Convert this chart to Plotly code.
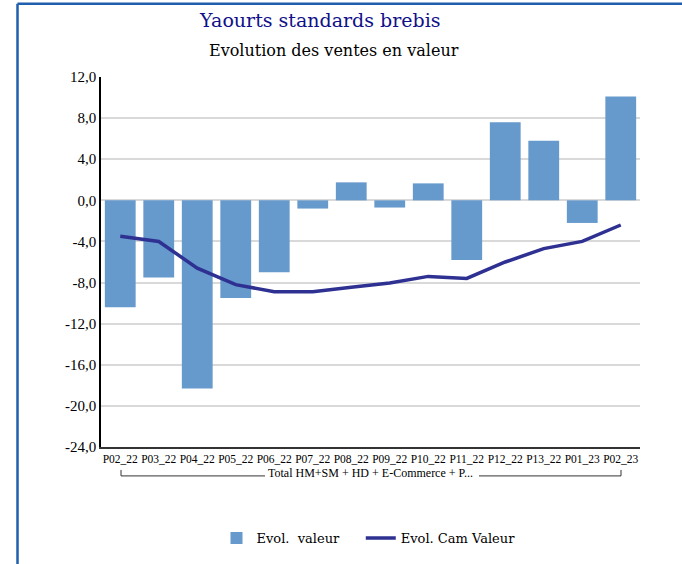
import plotly.graph_objects as go

categories = ["P02_22", "P03_22", "P04_22", "P05_22", "P06_22", "P07_22", "P08_22",
              "P09_22", "P10_22", "P11_22", "P12_22", "P13_22", "P01_23", "P02_23"]
evol_valeur = [-10.4, -7.5, -18.3, -9.5, -7.0, -0.8, 1.75, -0.7, 1.65, -5.8, 7.6, 5.8, -2.2, 10.1]
evol_cam_valeur = [-3.5, -4.0, -6.6, -8.2, -8.9, -8.9, -8.45, -8.05, -7.4, -7.6, -6.0, -4.7, -4.0, -2.4]
y_tickvals = [-24, -20, -16, -12, -8, -4, 0, 4, 8, 12]
y_ticktext = ["-24,0", "-20,0", "-16,0", "-12,0", "-8,0", "-4,0", "0,0", "4,0", "8,0", "12,0"]
group_label = "Total HM+SM + HD + E-Commerce + P..."

W, H = 682, 564
L, R, T, B = 101, 42, 77, 116
pw, ph = W - L - R, H - T - B

def px_x(x):
    return (x - L) / pw

def px_y(y):
    return (H - B - y) / ph

serif = "DejaVu Serif, Liberation Serif, serif"
tserif = "Liberation Serif, serif"

fig = go.Figure()
fig.add_trace(go.Bar(x=categories, y=evol_valeur, name="Evol.  valeur" + "\u00a0" * 4,
                     marker=dict(color="#6699cc", line=dict(width=0))))
fig.add_trace(go.Scatter(x=categories, y=evol_cam_valeur, name="Evol. Cam Valeur",
                         mode="lines", line=dict(color="#2e3192", width=3.5)))

shapes = []
# outer blue frame (left and top)
shapes.append(dict(type="line", xref="paper", yref="paper", x0=px_x(17.5), x1=px_x(700),
                   y0=px_y(3.5), y1=px_y(3.5), line=dict(color="#1f5fae", width=2.5)))
shapes.append(dict(type="line", xref="paper", yref="paper", x0=px_x(17.5), x1=px_x(17.5),
                   y0=px_y(3.5), y1=px_y(600), line=dict(color="#1f5fae", width=2.5)))
# bracket for group label
by, bt = 477, 471
shapes.append(dict(type="line", xref="paper", yref="paper", x0=px_x(121), x1=px_x(121),
                   y0=px_y(bt), y1=px_y(by), line=dict(color="#333333", width=1)))
shapes.append(dict(type="line", xref="paper", yref="paper", x0=px_x(621), x1=px_x(621),
                   y0=px_y(bt), y1=px_y(by), line=dict(color="#333333", width=1)))
shapes.append(dict(type="line", xref="paper", yref="paper", x0=px_x(121), x1=px_x(265),
                   y0=px_y(by), y1=px_y(by), line=dict(color="#333333", width=1)))
shapes.append(dict(type="line", xref="paper", yref="paper", x0=px_x(479), x1=px_x(621),
                   y0=px_y(by), y1=px_y(by), line=dict(color="#333333", width=1)))

annotations = [
    dict(text="Yaourts standards brebis", xref="paper", yref="paper", x=px_x(320), y=px_y(20),
         showarrow=False, font=dict(family=serif, size=19, color="#10108a"),
         xanchor="center", yanchor="middle"),
    dict(text="Evolution des ventes en valeur", xref="paper", yref="paper", x=px_x(334), y=px_y(50),
         showarrow=False, font=dict(family=serif, size=16, color="#000000"),
         xanchor="center", yanchor="middle"),
    dict(text=group_label, xref="paper", yref="paper", x=px_x(370), y=px_y(474),
         showarrow=False, font=dict(family=tserif, size=12, color="#000000"),
         xanchor="center", yanchor="middle"),
]

fig.update_layout(
    width=W, height=H,
    margin=dict(l=L, r=R, t=T, b=B),
    paper_bgcolor="white", plot_bgcolor="white",
    bargap=0.2,
    showlegend=True,
    legend=dict(orientation="h", x=px_x(368.5), y=px_y(538), xanchor="center", yanchor="middle",
                font=dict(family=serif, size=13, color="#000000"), itemwidth=30,
                traceorder="normal"),
    shapes=shapes,
    annotations=annotations,
    xaxis=dict(type="category", showgrid=False, showline=True, linecolor="#333333", linewidth=1.5,
               ticks="", tickfont=dict(family=tserif, size=11.5, color="#000000"),
               tickangle=0),
    yaxis=dict(range=[-24, 12], tickvals=y_tickvals, ticktext=y_ticktext,
               showgrid=True, gridcolor="#d9d9d9", gridwidth=1.5,
               zeroline=True, zerolinecolor="#d9d9d9", zerolinewidth=1.5,
               showline=True, linecolor="#000000", linewidth=1.5, ticks="",
               tickfont=dict(family=tserif, size=15, color="#000000")),
)

fig.write_html("out.html", config={"displayModeBar": False},
               post_script="document.body.style.margin='0';document.body.style.padding='0';")
